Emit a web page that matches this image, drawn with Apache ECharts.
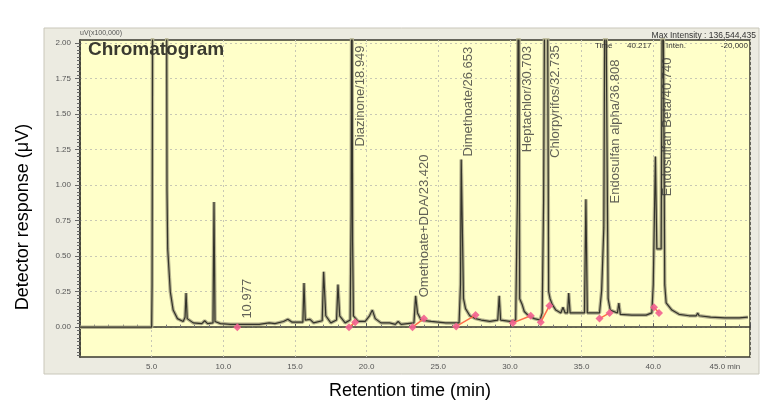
<!DOCTYPE html>
<html><head><meta charset="utf-8">
<script src="https://cdn.jsdelivr.net/npm/echarts@6/dist/echarts.min.js"></script>
<style>html,body{margin:0;padding:0;background:#fff}#c{width:761px;height:411px}</style>
</head><body><div id="c"></div>
<script>
// ---------- DATA ----------
const traceTime = [0,5.0,5.03,5.08,6.03,6.07,6.12,6.3,6.5,6.8,7.2,7.33,7.4,7.48,7.9,8.5,8.7,8.9,9.28,9.35,9.42,9.8,10.5,11.5,12.5,13.2,13.6,14.2,14.5,14.8,15.55,15.63,15.72,16.05,16.3,16.9,17.0,17.15,17.5,17.9,18.0,18.12,18.5,18.85,18.92,18.97,19.02,19.08,19.4,19.9,20.2,20.4,20.6,21.0,21.6,22.0,22.2,22.4,23.3,23.42,23.55,23.8,24.5,25.5,26.45,26.55,26.6,26.7,26.76,26.9,27.2,27.6,28.0,28.6,29.15,29.25,29.35,30.0,30.4,30.52,30.6,30.68,30.85,31.0,31.3,31.7,32.1,32.25,32.35,32.45,32.6,32.7,32.8,32.95,33.2,33.55,33.7,33.85,34.02,34.1,34.2,34.8,35.2,35.3,35.4,35.8,36.25,36.4,36.55,36.65,36.78,36.85,37.0,37.5,37.6,37.7,38.5,39.5,39.9,40.0,40.15,40.25,40.55,40.66,40.8,40.9,41.3,41.8,42.5,43.0,43.1,43.2,44.0,45.0,46.0,46.6];
const traceSignal = [0,0,0.3,3.0,3.0,0.96,0.55,0.25,0.12,0.06,0.04,0.07,0.24,0.06,0.03,0.025,0.045,0.025,0.03,0.88,0.04,0.025,0.02,0.02,0.02,0.03,0.025,0.04,0.055,0.035,0.035,0.31,0.05,0.055,0.03,0.045,0.39,0.08,0.03,0.05,0.30,0.08,0.03,0.05,0.8,3.0,0.6,0.08,0.04,0.04,0.08,0.12,0.06,0.03,0.03,0.02,0.04,0.02,0.03,0.22,0.1,0.05,0.04,0.03,0.03,0.3,1.18,1.18,0.2,0.13,0.08,0.06,0.05,0.04,0.05,0.22,0.05,0.04,0.05,0.9,3.0,0.2,0.16,0.11,0.08,0.06,0.05,0.1,0.9,3.0,3.0,0.25,0.2,0.16,0.12,0.1,0.14,0.1,0.1,0.24,0.1,0.1,0.1,0.9,0.1,0.1,0.1,0.26,0.7,3.0,3.0,0.2,0.12,0.1,0.17,0.09,0.085,0.085,0.1,0.3,1.2,0.55,0.55,3.0,0.3,0.17,0.12,0.09,0.08,0.08,0.1,0.08,0.07,0.065,0.065,0.07];

const peakNames = ['10.977','Diazinone/18.949','Omethoate+DDA/23.420','Dimethoate/26.653','Heptachlor/30.703','Chlorpyrifos/32.735','Endosulfan alpha/36.808','Endosulfan Beta/40.740'];

// integration baseline markers (start / end of each peak)
const markStartTime   = [10.977,18.77,23.2,26.25,30.2,32.15,36.25,40.05];
const markStartSignal = [0.0,0.0,0.0,0.005,0.03,0.035,0.06,0.14];
const markEndTime     = [null,19.2,24.0,27.6,31.45,32.75,36.95,40.4];
const markEndSignal   = [null,0.035,0.06,0.085,0.08,0.15,0.10,0.10];

const yTickLabels = [0,0.25,0.5,0.75,1.0,1.25,1.5,1.75,2.0];
const xTickLabels = [5,10,15,20,25,30,35,40,45];

// ---------- LAYOUT / STYLE ----------
const FONT = '"Liberation Sans", Arial, sans-serif';
// label anchors (time, signal) where each rotated peak label starts
const labelAnchorTime   = [11.69,19.54,24.0,27.08,31.2,33.15,37.33,40.96];
const labelAnchorSignal = [0.06,1.27,0.21,1.2,1.23,1.19,0.87,0.92];

const trace = traceTime.map((t,i)=>[t,traceSignal[i]]);
const denseTicks = [];
for (let k=-8;k<=80;k++) denseTicks.push(+(k*0.025).toFixed(3));

const chart = echarts.init(document.getElementById('c'), null, {renderer:'canvas'});

const baselineSeries = markStartTime.map((t,i)=>markEndTime[i]==null?null:({
  type:'line', xAxisIndex:0, yAxisIndex:0, silent:true, showSymbol:false, z:4,
  data:[[t,markStartSignal[i]],[markEndTime[i],markEndSignal[i]]],
  lineStyle:{color:'#ff6e4a', width:1.5}
})).filter(Boolean);

const markerPts = [];
markStartTime.forEach((t,i)=>{
  markerPts.push([t,markStartSignal[i]]);
  if (markEndTime[i]!=null) markerPts.push([markEndTime[i],markEndSignal[i]]);
});

chart.setOption({
  animation:false,
  backgroundColor:'#ffffff',
  graphic:[
    {type:'rect', z:-10, shape:{x:44,y:28,width:715,height:346}, style:{fill:'#ecebe1', stroke:'#c9c7ba', lineWidth:1}},
    {type:'text', z:100, left:88, top:40, style:{text:'Chromatogram', font:'bold 19px '+FONT, fill:'#3a3a30'}},
    {type:'text', z:100, x:80, y:30, style:{text:'uV(x100,000)', font:'7px '+FONT, fill:'#555'}},
    {type:'text', z:100, x:756, y:31, style:{text:'Max Intensity : 136,544,435', font:'8.5px '+FONT, fill:'#333', align:'right'}},
    {type:'text', z:100, x:595, y:42, style:{text:'Time', font:'8px '+FONT, fill:'#333'}},
    {type:'text', z:100, x:627, y:42, style:{text:'40.217', font:'8px '+FONT, fill:'#333'}},
    {type:'text', z:100, x:666, y:42, style:{text:'Inten.', font:'8px '+FONT, fill:'#333'}},
    {type:'text', z:100, x:748, y:42, style:{text:'-20,000', font:'8px '+FONT, fill:'#333', align:'right'}},
    {type:'text', z:100, x:23, y:217, rotation:Math.PI/2, style:{text:'Detector response (\u03bcV)', font:'18px '+FONT, fill:'#000', align:'center', verticalAlign:'middle'}},
    {type:'text', z:100, x:410, y:391, style:{text:'Retention time (min)', font:'18px '+FONT, fill:'#000', align:'center', verticalAlign:'middle'}}
  ],
  grid:[
    {left:80, right:11, top:40, bottom:54, show:true, backgroundColor:'#ffffc9', borderColor:'#3a3a30', borderWidth:1.5, containLabel:false},
    {left:80, right:11, top:43, bottom:84, show:false, containLabel:false}
  ],
  xAxis:[
    {type:'value', gridIndex:0, min:0, max:46.75, interval:5,
     axisLine:{show:true, lineStyle:{color:'#3a3a30', width:1.5}},
     axisTick:{show:true, inside:true, length:4, lineStyle:{color:'#555'}},
     minorTick:{show:true, splitNumber:5, length:2.5, lineStyle:{color:'#777'}},
     splitLine:{show:true, lineStyle:{color:'#c8c8b4', type:[2,3], width:1}},
     axisLabel:{fontSize:8, color:'#555', margin:6, fontFamily:FONT,
       formatter:v=> xTickLabels.indexOf(Math.round(v*1000)/1000)<0 ? '' : (v===45 ? '45.0 min' : v.toFixed(1))}},
    {type:'value', gridIndex:1, min:0, max:46.75, show:false}
  ],
  yAxis:[
    {type:'value', gridIndex:0, min:-0.21, max:2.02,
     axisLine:{show:true, lineStyle:{color:'#3a3a30', width:1.5}},
     axisTick:{show:true, customValues:denseTicks, length:3, lineStyle:{color:'#666'}},
     axisLabel:{show:false}, splitLine:{show:false}},
    {type:'value', gridIndex:1, min:0, max:2, interval:0.25,
     axisLine:{show:false},
     axisTick:{show:true, length:5, lineStyle:{color:'#666'}},
     splitLine:{show:true, lineStyle:{color:'#c8c8b4', type:[2,3], width:1}},
     axisLabel:{fontSize:8, color:'#555', margin:9, fontFamily:FONT,
       formatter:v=> yTickLabels.indexOf(v)<0 ? '' : v.toFixed(2)}}
  ],
  series:[
    {type:'line', xAxisIndex:1, yAxisIndex:1, data:[], silent:true},
    {type:'line', xAxisIndex:0, yAxisIndex:0, data:trace, showSymbol:false, clip:true, silent:true, z:2,
     lineStyle:{color:'#b5b28e', width:3.5}},
    {type:'line', xAxisIndex:0, yAxisIndex:0, data:trace, showSymbol:false, clip:true, silent:true, z:3,
     lineStyle:{color:'#33332a', width:1.2}},
    ...baselineSeries,
    {type:'scatter', xAxisIndex:0, yAxisIndex:0, data:markerPts, symbol:'diamond', symbolSize:8, z:5, silent:true,
     itemStyle:{color:'#f2618f', opacity:0.9}},
    {type:'scatter', xAxisIndex:0, yAxisIndex:0, z:6, silent:true, symbolSize:0,
     data:labelAnchorTime.map((t,i)=>({value:[t,labelAnchorSignal[i]], name:peakNames[i]})),
     label:{show:true, position:'inside', rotate:90, align:'left', verticalAlign:'middle',
       formatter:p=>p.name, fontSize:13, color:'#3a3a3a', fontFamily:FONT}}
  ]
});
</script></body></html>
